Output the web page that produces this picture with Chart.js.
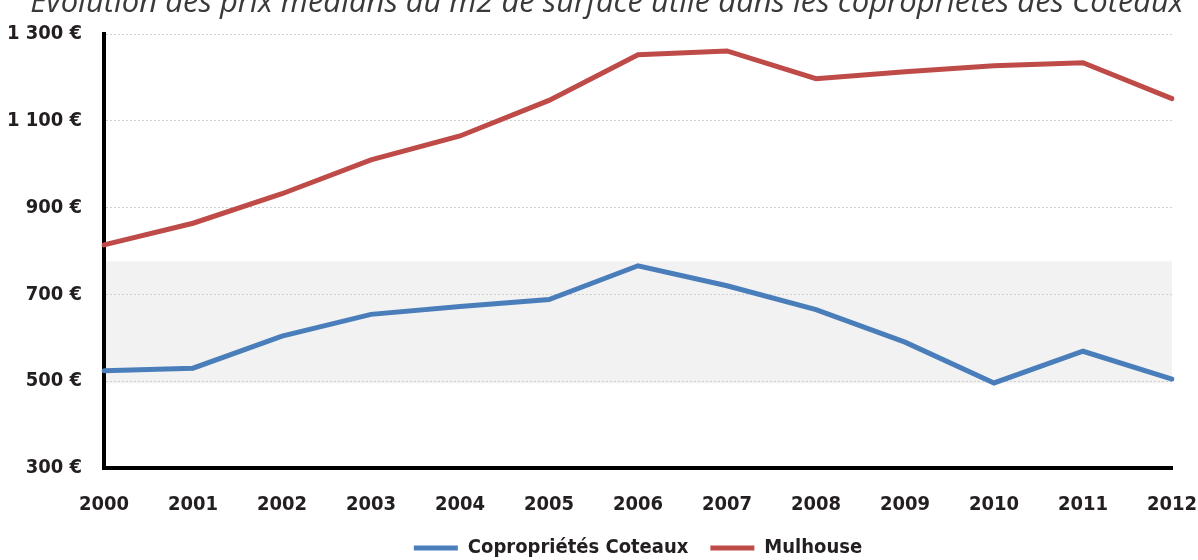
<!DOCTYPE html>
<html lang="fr">
<head>
  <meta charset="UTF-8" />
  <title>Prix médians au m2</title>
  <script src="https://cdn.jsdelivr.net/npm/chart.js"></script>
  <style>
    body { margin: 0; background: #fff; overflow: hidden; }
    #wrap { position: relative; width: 1198px; height: 560px; }
    #title {
      position: absolute;
      left: 0; right: 0;
      top: -15px;
      text-align: center;
      font-family: 'Open Sans', sans-serif;
      font-style: italic;
      font-size: 31px;
      line-height: 31px;
      color: #3a3a3a;
      white-space: nowrap;
      padding-left: 16px;
    }
  </style>
</head>
<body>
  <div id="wrap">
    <canvas id="chart"></canvas>
    <div id="title">Évolution des prix médians au m2 de surface utile dans les copropriétés des Coteaux</div>
  </div>

  <script>
    const years = ['2000', '2001', '2002', '2003', '2004', '2005', '2006',
                   '2007', '2008', '2009', '2010', '2011', '2012'];
    const coteaux = [524, 530, 604, 654, 672, 688, 766, 720, 665, 590, 496, 569, 505];
    const mulhouse = [814, 864, 932, 1010, 1065, 1147, 1252, 1261, 1197, 1213, 1227, 1234, 1151];
    const yTicks = [300, 500, 700, 900, 1100, 1300];
    const yTickLabels = ['300 €', '500 €', '700 €', '900 €', '1 100 €', '1 300 €'];
    const bandRange = [495, 776];

    // condensed bold face, passed through the weight slot of the font string
    const labelFont = "'DejaVu Sans', sans-serif";
    const labelWeight = 'bold condensed';

    // shaded band behind the lines
    const bandPlugin = {
      id: 'band',
      beforeDraw(chart) {
        const { ctx, chartArea, scales } = chart;
        const yTop = scales.y.getPixelForValue(bandRange[1]);
        const yBot = scales.y.getPixelForValue(bandRange[0]);
        ctx.save();
        ctx.fillStyle = '#f2f2f2';
        ctx.fillRect(chartArea.left, yTop, chartArea.right - chartArea.left, yBot - yTop);
        ctx.restore();
      }
    };

    new Chart(document.getElementById('chart').getContext('2d'), {
      type: 'line',
      data: {
        labels: years,
        datasets: [
          {
            label: 'Copropriétés Coteaux',
            data: coteaux,
            borderColor: '#4a7ebb',
            backgroundColor: '#4a7ebb',
            borderWidth: 5,
            borderCapStyle: 'round',
            pointRadius: 0,
            tension: 0
          },
          {
            label: 'Mulhouse',
            data: mulhouse,
            borderColor: '#be4b48',
            backgroundColor: '#be4b48',
            borderWidth: 5,
            borderCapStyle: 'round',
            pointRadius: 0,
            tension: 0
          }
        ]
      },
      options: {
        responsive: true,
        maintainAspectRatio: false,
        animation: false,
        layout: { padding: { left: 0, right: 4, top: 27, bottom: -8 } },
        plugins: {
          title: { display: false },
          tooltip: { enabled: false },
          legend: {
            position: 'bottom',
            fullSize: false,
            labels: {
              usePointStyle: true,
              pointStyle: 'line',
              pointStyleWidth: 44,
              padding: 22,
              color: '#231f20',
              font: { family: labelFont, size: 20, weight: labelWeight }
            }
          }
        },
        scales: {
          x: {
            offset: false,
            grid: { display: false, drawTicks: false },
            border: { display: true, width: 4, color: '#000' },
            ticks: {
              color: '#231f20',
              padding: 25,
              maxRotation: 0,
              font: { family: labelFont, size: 20, weight: labelWeight }
            },
            afterFit(scale) {
              scale.height = 48;
              scale.paddingLeft = 0;
              scale.paddingRight = 26;
            }
          },
          y: {
            min: 300,
            max: 1300,
            afterBuildTicks(scale) { scale.ticks = yTicks.map(v => ({ value: v })); },
            grid: {
              color: '#d0d0d0',
              lineWidth: 1,
              drawTicks: false
            },
            border: { display: true, width: 4, color: '#000', dash: [2, 2] },
            ticks: {
              color: '#231f20',
              padding: 22,
              font: { family: labelFont, size: 20, weight: labelWeight },
              callback: (v) => yTickLabels[yTicks.indexOf(v)]
            },
            afterFit(scale) { scale.width = 104; }
          }
        }
      },
      plugins: [bandPlugin]
    });
  </script>
</body>
</html>
